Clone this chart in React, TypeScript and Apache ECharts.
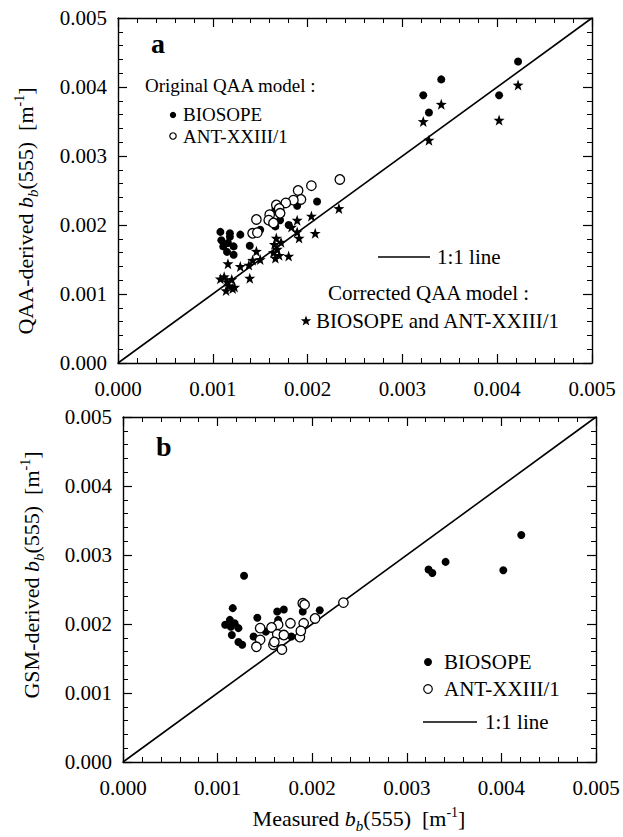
import { useEffect, useRef } from 'react'
import * as echarts from 'echarts'

const FONT = 'Liberation Serif'

// panel a : original QAA model, BIOSOPE (filled circles)
const qaaBiosope: [number, number][] = [
  [0.00422, 0.00437], [0.00402, 0.00388], [0.00341, 0.00411], [0.00322, 0.00388], [0.00328, 0.00363],
  [0.0021, 0.00234], [0.00189, 0.00228], [0.0018, 0.002], [0.00166, 0.00222], [0.00162, 0.00207],
  [0.00171, 0.00207], [0.00166, 0.00198], [0.0015, 0.00193], [0.00139, 0.0017], [0.00129, 0.00186],
  [0.00108, 0.0019], [0.00118, 0.00188], [0.00109, 0.00178], [0.00116, 0.00174], [0.00111, 0.00169],
  [0.00122, 0.00169], [0.00115, 0.00161], [0.00122, 0.00157], [0.00118, 0.00183],
]
// panel a : original QAA model, ANT-XXIII/1 (open circles)
const qaaAnt: [number, number][] = [
  [0.00234, 0.00266], [0.00204, 0.00257], [0.0019, 0.0025], [0.00193, 0.00237], [0.00185, 0.00236],
  [0.00177, 0.00232], [0.00167, 0.00229], [0.0017, 0.00224], [0.0016, 0.00215], [0.00171, 0.00217],
  [0.00146, 0.00208], [0.00142, 0.00188], [0.00147, 0.00189], [0.00159, 0.00207], [0.00164, 0.00203],
]
// panel a : corrected QAA model, both cruises (stars)
const qaaCorrected: [number, number][] = [
  [0.00422, 0.00403], [0.00402, 0.00352], [0.00341, 0.00375], [0.00322, 0.0035], [0.00328, 0.00323],
  [0.00233, 0.00224], [0.00208, 0.00188], [0.00204, 0.00213], [0.00189, 0.00207], [0.00189, 0.0019],
  [0.00191, 0.00181], [0.0018, 0.00155], [0.00167, 0.00181], [0.00165, 0.00172], [0.00168, 0.00165],
  [0.00164, 0.0016], [0.0017, 0.00156], [0.00166, 0.00152], [0.00172, 0.00175], [0.00146, 0.00162],
  [0.00142, 0.00149], [0.00139, 0.00123], [0.00129, 0.0014], [0.00116, 0.00144], [0.00108, 0.00122],
  [0.00112, 0.00125], [0.00115, 0.00118], [0.0012, 0.00121], [0.00117, 0.00112], [0.00121, 0.00108],
  [0.00114, 0.00105], [0.00123, 0.0011], [0.0015, 0.0015], [0.00138, 0.00142], [0.00183, 0.00197],
]
// panel b : GSM model, BIOSOPE
const gsmBiosope: [number, number][] = [
  [0.00421, 0.00329], [0.00323, 0.00279], [0.00327, 0.00274], [0.00341, 0.0029], [0.00402, 0.00278],
  [0.00128, 0.0027], [0.00116, 0.00223], [0.00108, 0.00199], [0.00113, 0.00206], [0.00118, 0.00201],
  [0.00122, 0.00194], [0.00115, 0.00184], [0.00122, 0.00174], [0.00126, 0.0017], [0.00114, 0.00196],
  [0.00142, 0.00209], [0.00138, 0.00182], [0.00151, 0.00189], [0.00163, 0.00218], [0.0017, 0.00221],
  [0.00164, 0.00206], [0.00178, 0.00182], [0.0019, 0.00218], [0.00208, 0.0022],
]
// panel b : GSM model, ANT-XXIII/1
const gsmAnt: [number, number][] = [
  [0.00233, 0.00231], [0.0019, 0.0023], [0.00192, 0.00228], [0.00203, 0.00208], [0.00191, 0.00201],
  [0.00177, 0.00201], [0.00164, 0.00199], [0.00157, 0.00195], [0.00145, 0.00194], [0.00163, 0.00185],
  [0.0017, 0.00184], [0.00187, 0.00181], [0.00188, 0.0019], [0.00145, 0.00177], [0.00141, 0.00167],
  [0.00159, 0.0017], [0.0016, 0.00174], [0.00168, 0.00163],
]
const oneToOne: [number, number][] = [[0, 0], [0.005, 0.005]]
const AXIS_MIN = 0
const AXIS_MAX = 0.005
const AXIS_STEP = 0.001

const STAR = 'path://M0,-10L2.35,-3.24L9.51,-3.09L3.8,1.24L5.88,8.09L0,4L-5.88,8.09L-3.8,1.24L-9.51,-3.09L-2.35,-3.24Z'

function starPoints(cx: number, cy: number, r: number) {
  const pts: number[][] = []
  for (let i = 0; i < 10; i++) {
    const rr = i % 2 === 0 ? r : r * 0.42
    const a = -Math.PI / 2 + (i * Math.PI) / 5
    pts.push([cx + rr * Math.cos(a), cy + rr * Math.sin(a)])
  }
  return pts
}

const rich = {
  n: { fontFamily: FONT, fontSize: 22, color: '#000', lineHeight: 30, verticalAlign: 'middle' },
  i: { fontFamily: FONT, fontSize: 22, color: '#000', fontStyle: 'italic', lineHeight: 30, verticalAlign: 'middle' },
  s: { fontFamily: FONT, fontSize: 15, color: '#000', fontStyle: 'italic', lineHeight: 30, verticalAlign: 'bottom' },
  p: { fontFamily: FONT, fontSize: 14, color: '#000', lineHeight: 30, verticalAlign: 'top', padding: [2, 0, 0, 0] },
}
const title = (pre: string) => `{n|${pre} }{i|b}{s|b}{n|(555)  [m}{p|-1}{n|]}`

function axis(gridIndex: number, position: string, labels: boolean, margin: number) {
  return {
    type: 'value',
    gridIndex,
    position,
    min: AXIS_MIN,
    max: AXIS_MAX,
    interval: AXIS_STEP,
    axisLine: { show: true, onZero: false, lineStyle: { color: '#000', width: 1.4 } },
    axisTick: { show: true, inside: true, length: 9, lineStyle: { color: '#000', width: 1.2 } },
    minorTick: { show: true, splitNumber: 5, length: 5, lineStyle: { color: '#000', width: 1 } },
    splitLine: { show: false },
    axisLabel: {
      show: labels,
      margin,
      color: '#000',
      fontSize: 21,
      fontFamily: FONT,
      formatter: (v: number) => v.toFixed(3),
    },
  }
}

const filled = (name: string, data: [number, number][], ax: number) => ({
  name, type: 'scatter', xAxisIndex: ax, yAxisIndex: ax, data,
  symbol: 'circle', symbolSize: 8, itemStyle: { color: '#000', opacity: 1 },
})
const open = (name: string, data: [number, number][], ax: number) => ({
  name, type: 'scatter', xAxisIndex: ax, yAxisIndex: ax, data,
  symbol: 'circle', symbolSize: 9.5, itemStyle: { color: '#fff', borderColor: '#000', borderWidth: 1.3, opacity: 1 },
})
const line = (ax: number) => ({
  type: 'line', xAxisIndex: ax, yAxisIndex: ax, data: oneToOne, showSymbol: false,
  lineStyle: { color: '#000', width: 1.6 }, z: 1,
})

const txt = (x: number, y: number, text: string, size = 21, extra: object = {}) => ({
  type: 'text', x, y,
  style: { text, fontFamily: FONT, fontSize: size, fill: '#000', verticalAlign: 'middle', ...extra },
})

export default function App() {
  const ref = useRef<HTMLDivElement>(null)

  useEffect(() => {
    if (!ref.current) return
    const chart = echarts.init(ref.current, null, { renderer: 'svg' })

    const option = {
      animation: false,
      backgroundColor: '#fff',
      textStyle: { fontFamily: FONT },
      grid: [
        { left: 118, top: 18, width: 474, height: 345 },
        { left: 123, top: 417, width: 473, height: 345 },
      ],
      xAxis: [
        axis(0, 'bottom', true, 15),
        axis(1, 'bottom', true, 15),
        axis(0, 'top', false, 8),
        axis(1, 'top', false, 8),
      ],
      yAxis: [
        axis(0, 'left', true, 11),
        axis(1, 'left', true, 11),
        axis(0, 'right', false, 8),
        axis(1, 'right', false, 8),
      ],
      series: [
        line(0),
        filled('BIOSOPE', qaaBiosope, 0),
        open('ANT-XXIII/1', qaaAnt, 0),
        {
          name: 'Corrected', type: 'scatter', xAxisIndex: 0, yAxisIndex: 0, data: qaaCorrected,
          symbol: STAR, symbolSize: 11, itemStyle: { color: '#000', opacity: 1 },
        },
        line(1),
        filled('BIOSOPE', gsmBiosope, 1),
        open('ANT-XXIII/1', gsmAnt, 1),
      ],
      graphic: [
        // axis titles
        { type: 'text', x: 25, y: 211, rotation: Math.PI / 2, style: { text: title('QAA-derived'), rich, align: 'center', verticalAlign: 'middle' } },
        { type: 'text', x: 31, y: 575, rotation: Math.PI / 2, style: { text: title('GSM-derived'), rich, align: 'center', verticalAlign: 'middle' } },
        { type: 'text', x: 359, y: 818, style: { text: title('Measured'), rich, align: 'center', verticalAlign: 'middle' } },
        // panel a
        txt(151, 43, 'a', 28, { fontWeight: 'bold' }),
        txt(145, 85, 'Original QAA model :', 19),
        { type: 'circle', shape: { cx: 173, cy: 115, r: 3.2 }, style: { fill: '#000' } },
        txt(183, 114, 'BIOSOPE', 19),
        { type: 'circle', shape: { cx: 173, cy: 136, r: 3.2 }, style: { fill: '#fff', stroke: '#000', lineWidth: 1.2 } },
        txt(183, 136, 'ANT-XXIII/1', 19),
        { type: 'line', shape: { x1: 378, y1: 257, x2: 430, y2: 257 }, style: { stroke: '#000', lineWidth: 1.6 } },
        txt(437, 257, '1:1 line'),
        txt(328, 293, 'Corrected QAA model :'),
        { type: 'polygon', shape: { points: starPoints(306, 321, 5.5) }, style: { fill: '#000' } },
        txt(316, 321, 'BIOSOPE and ANT-XXIII/1'),
        // panel b
        txt(156, 446, 'b', 28, { fontWeight: 'bold' }),
        { type: 'circle', shape: { cx: 428, cy: 662, r: 4 }, style: { fill: '#000' } },
        txt(444, 662, 'BIOSOPE'),
        { type: 'circle', shape: { cx: 428, cy: 689, r: 4.3 }, style: { fill: '#fff', stroke: '#000', lineWidth: 1.2 } },
        txt(444, 689, 'ANT-XXIII/1'),
        { type: 'line', shape: { x1: 423, y1: 722, x2: 477, y2: 722 }, style: { stroke: '#000', lineWidth: 1.6 } },
        txt(485, 722, '1:1 line'),
      ],
    }

    chart.setOption(option as echarts.EChartsOption)
    return () => chart.dispose()
  }, [])

  return <div ref={ref} style={{ position: 'fixed', left: 0, top: 0, width: 623, height: 837 }} />
}
